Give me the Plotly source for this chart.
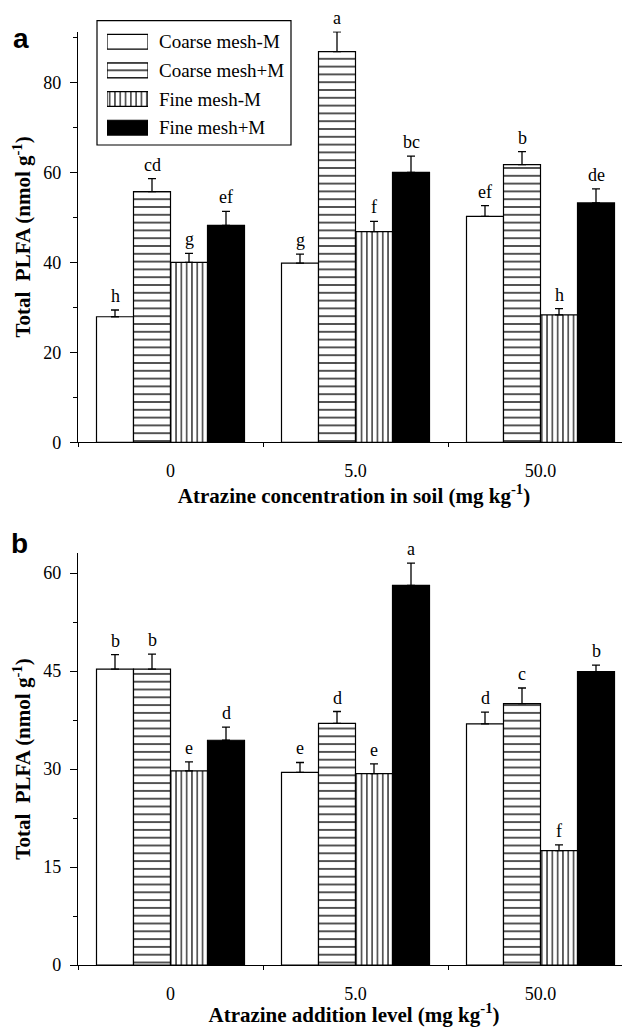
import plotly.graph_objects as go

# ---------------- data ----------------
categories = ["0", "5.0", "50.0"]
series_names = ["Coarse mesh-M", "Coarse mesh+M", "Fine mesh-M", "Fine mesh+M"]

# Panel a: Total PLFA (nmol g-1) vs atrazine concentration in soil
a_coarse_minus = [27.9, 39.8, 50.2]
a_coarse_plus = [55.7, 86.8, 61.7]
a_fine_minus = [40.0, 46.8, 28.3]
a_fine_plus = [48.2, 60.0, 53.2]
a_err_coarse_minus = [1.5, 2.0, 2.4]
a_err_coarse_plus = [2.9, 4.4, 2.9]
a_err_fine_minus = [2.0, 2.3, 1.4]
a_err_fine_plus = [3.1, 3.6, 3.1]
a_let_coarse_minus = ["h", "g", "ef"]
a_let_coarse_plus = ["cd", "a", "b"]
a_let_fine_minus = ["g", "f", "h"]
a_let_fine_plus = ["ef", "bc", "de"]

# Panel b: Total PLFA (nmol g-1) vs atrazine addition level
b_coarse_minus = [45.3, 29.5, 36.9]
b_coarse_plus = [45.3, 37.0, 40.0]
b_fine_minus = [29.7, 29.3, 17.5]
b_fine_plus = [34.4, 58.1, 44.9]
b_err_coarse_minus = [2.2, 1.5, 1.8]
b_err_coarse_plus = [2.3, 1.8, 2.4]
b_err_fine_minus = [1.4, 1.5, 0.9]
b_err_fine_plus = [2.0, 3.4, 1.0]
b_let_coarse_minus = ["b", "e", "d"]
b_let_coarse_plus = ["b", "d", "c"]
b_let_fine_minus = ["e", "e", "f"]
b_let_fine_plus = ["d", "a", "b"]

a_ticks = [0, 20, 40, 60, 80]
b_ticks = [0, 15, 30, 45, 60]

# ---------------- styling ----------------
OFF = 8                      # page body margin of the browser
W, H = 630 - OFF, 1027 - OFF
L = 78 - OFF
PW = W - L
SERIF = "Liberation Serif"
SANS = "Liberation Sans"

styles = [
    dict(color="white", pattern=None),
    dict(color="white", pattern=dict(shape="-", size=7.8, solidity=0.17,
                                     fgcolor="black", bgcolor="white", fillmode="replace")),
    dict(color="white", pattern=dict(shape="|", size=5.3, solidity=0.22,
                                     fgcolor="black", bgcolor="white", fillmode="replace")),
    dict(color="black", pattern=None),
]
offsets = [-0.3, -0.1, 0.1, 0.3]


def px_x(p):
    """reference-image pixel x -> paper fraction"""
    return (p - OFF - L) / PW


def px_y(p):
    """reference-image pixel y -> paper fraction"""
    return 1 - (p - OFF) / H


fig = go.Figure()
xs = list(range(len(categories)))

panels = [
    ("x", "y", [a_coarse_minus, a_coarse_plus, a_fine_minus, a_fine_plus],
     [a_err_coarse_minus, a_err_coarse_plus, a_err_fine_minus, a_err_fine_plus],
     [a_let_coarse_minus, a_let_coarse_plus, a_let_fine_minus, a_let_fine_plus]),
    ("x2", "y2", [b_coarse_minus, b_coarse_plus, b_fine_minus, b_fine_plus],
     [b_err_coarse_minus, b_err_coarse_plus, b_err_fine_minus, b_err_fine_plus],
     [b_let_coarse_minus, b_let_coarse_plus, b_let_fine_minus, b_let_fine_plus]),
]

annotations = []
for xa, ya, vals, errs, lets in panels:
    for k in range(4):
        st = styles[k]
        marker = dict(color=st["color"], line=dict(color="black", width=1.2))
        if st["pattern"] is not None:
            marker["pattern"] = st["pattern"]
        fig.add_trace(go.Bar(
            x=xs, y=vals[k], name=series_names[k], xaxis=xa, yaxis=ya,
            marker=marker, showlegend=False,
            error_y=dict(type="data", array=errs[k], arrayminus=[0] * len(xs),
                         symmetric=False, color="black", thickness=1.3, width=4),
        ))
        for i in range(len(xs)):
            annotations.append(dict(
                x=xs[i] + offsets[k], y=vals[k][i] + errs[k][i], xref=xa, yref=ya,
                text=lets[k][i], showarrow=False, yanchor="bottom", yshift=2,
                font=dict(family=SERIF, size=18, color="black"),
            ))

# legend built as a tiny bar chart
for k in range(4):
    st = styles[k]
    marker = dict(color=st["color"], line=dict(color="black", width=1.2))
    if st["pattern"] is not None:
        marker["pattern"] = st["pattern"]
    fig.add_trace(go.Bar(
        x=[1], y=[series_names[k]], orientation="h", base=0, width=0.52,
        xaxis="x3", yaxis="y3", marker=marker, showlegend=False, hoverinfo="skip",
    ))
    annotations.append(dict(
        x=px_x(157), xref="paper", y=series_names[k], yref="y3", xanchor="left",
        text=series_names[k], showarrow=False,
        font=dict(family=SERIF, size=19, color="black"),
    ))

# panel letters
annotations += [
    dict(x=px_x(11), y=px_y(21), xref="paper", yref="paper", xanchor="left",
         text="<b>a</b>", showarrow=False, font=dict(family=SANS, size=28, color="black")),
    dict(x=px_x(9), y=px_y(543), xref="paper", yref="paper", xanchor="left",
         text="<b>b</b>", showarrow=False, font=dict(family=SANS, size=28, color="black")),
]

ytitle = "<b>Total  PLFA (nmol g<sup>-1</sup>)</b>"
title_font = dict(family=SERIF, size=21, color="black")

xaxis_common = dict(
    range=[-0.5, -0.5 + PW / 185.0], tickvals=xs, ticktext=categories, ticks="",
    ticklabelstandoff=12, automargin=False,
    showline=True, linecolor="black", linewidth=1.2, showgrid=False, zeroline=False,
    tickfont=dict(family=SERIF, size=18, color="black"),
    minor=dict(tickvals=[-0.5, 0.5, 1.5, 2.5], ticks="outside", ticklen=4,
               tickcolor="black", tickwidth=1.2),
    fixedrange=True,
)
yaxis_common = dict(
    showline=True, linecolor="black", linewidth=1.2, showgrid=False, zeroline=False,
    ticks="outside", ticklen=7, tickcolor="black", tickwidth=1.2, automargin=False,
    ticklabelstandoff=5,
    tickfont=dict(family=SERIF, size=18, color="black"),
    title=dict(text=ytitle, font=title_font, standoff=6),
)

fig.update_layout(
    template="none",
    width=W, height=H,
    margin=dict(l=L, r=0, t=0, b=0, pad=0),
    font=dict(family=SERIF, color="black"),
    paper_bgcolor="white", plot_bgcolor="white",
    barmode="group", bargap=0.2, bargroupgap=0,
    showlegend=False,
    xaxis=dict(domain=[0, 1], anchor="y",
               title=dict(text="<b>Atrazine concentration in soil (mg kg<sup>-1</sup>)</b>",
                          font=title_font, standoff=3),
               **xaxis_common),
    xaxis2=dict(domain=[0, 1], anchor="y2",
                title=dict(text="<b>Atrazine addition level (mg kg<sup>-1</sup>)</b>",
                           font=title_font, standoff=3),
                **xaxis_common),
    yaxis=dict(domain=[px_y(442.3), px_y(31.5)], anchor="x", range=[0, (442.3 - 31.5) / 4.5],
               tickvals=a_ticks, minor=dict(dtick=10, ticks="outside", ticklen=4,
                                            tickcolor="black", tickwidth=1.2),
               **yaxis_common),
    yaxis2=dict(domain=[px_y(965), px_y(553)], anchor="x2", range=[0, 412 / 6.533],
                tickvals=b_ticks, minor=dict(dtick=7.5, ticks="outside", ticklen=4,
                                             tickcolor="black", tickwidth=1.2),
                **yaxis_common),
    xaxis3=dict(domain=[px_x(107), px_x(148)], anchor="y3", range=[0, 1], visible=False,
                fixedrange=True),
    yaxis3=dict(domain=[px_y(142), px_y(27.4)], anchor="x3", visible=False,
                categoryorder="array", categoryarray=series_names[::-1], fixedrange=True),
    annotations=annotations,
    shapes=[dict(type="rect", xref="paper", yref="paper",
                 x0=px_x(97), x1=px_x(291), y0=px_y(145), y1=px_y(20.7),
                 line=dict(color="black", width=1.2), fillcolor="rgba(0,0,0,0)")],
)

fig.write_html("out.html")
